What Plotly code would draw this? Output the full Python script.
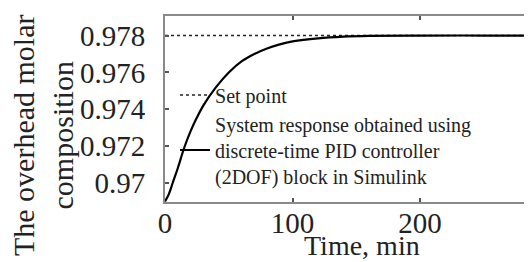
import plotly.graph_objects as go

# Data
time_min = [0, 3, 6, 10, 15, 20, 25, 30, 40, 50, 60, 70, 80, 90, 100, 120, 140, 160, 200, 250, 300]
response = [0.9690, 0.9694, 0.9700, 0.9708, 0.9719, 0.9728, 0.97355, 0.9742, 0.9752, 0.9760,
            0.9766, 0.9770, 0.9773, 0.97752, 0.97768, 0.97785, 0.97794, 0.97798, 0.97800, 0.97800, 0.97800]
setpoint_t = [0, 300]
setpoint_v = [0.978, 0.978]

x_ticks = [0, 100, 200]
y_ticks = [0.970, 0.972, 0.974, 0.976, 0.978]
y_ticktext = ["0.97", "0.972", "0.974", "0.976", "0.978"]

FONT = "Liberation Serif"
TXT = "#222222"

fig = go.Figure()
fig.add_trace(go.Scatter(
    x=setpoint_t, y=setpoint_v, mode="lines", name="Set point",
    line=dict(color="#222222", width=1.6, dash="dot"),
))
fig.add_trace(go.Scatter(
    x=time_min, y=response, mode="lines",
    name="System response obtained using<br>discrete-time PID controller<br>(2DOF) block in Simulink",
    line=dict(color="black", width=2.2, shape="spline", smoothing=1.0),
))

fig.update_layout(
    width=532, height=262,
    margin=dict(l=157, r=0, t=8, b=68),
    paper_bgcolor="white", plot_bgcolor="white",
    font=dict(family=FONT, color=TXT),
    showlegend=True,
    legend=dict(
        x=0.0267, y=0.68, xanchor="left", yanchor="top",
        bgcolor="rgba(0,0,0,0)", borderwidth=0,
        font=dict(family=FONT, size=20, color=TXT),
        tracegroupgap=0, itemwidth=30,
    ),
    xaxis=dict(
        range=[0, 294], tickvals=x_ticks, ticks="inside", ticklen=4, tickwidth=1.5,
        tickcolor="#555555",
        showline=True, linecolor="#8a8a8a", linewidth=2, mirror="ticks",
        showgrid=False, zeroline=False,
        tickfont=dict(family=FONT, size=29, color=TXT),
        ticklabelstandoff=-6,
    ),
    yaxis=dict(
        range=[0.96897, 0.97906], tickvals=y_ticks, ticktext=y_ticktext,
        ticks="inside", ticklen=4, tickwidth=1.5, tickcolor="#555555",
        showline=True, linecolor="#8a8a8a", linewidth=2, mirror=False,
        showgrid=False, zeroline=False,
        tickfont=dict(family=FONT, size=29, color=TXT),
        ticklabelstandoff=12,
    ),
    annotations=[
        dict(
            text="The overhead molar<br>composition",
            xref="paper", yref="paper", x=-0.3253, y=0.36,
            xanchor="center", yanchor="middle", textangle=-90, showarrow=False,
            font=dict(family=FONT, size=30, color=TXT),
        ),
        dict(
            text="Time, min",
            xref="paper", yref="paper", x=0.525, y=-0.232,
            xanchor="center", yanchor="middle", showarrow=False,
            font=dict(family=FONT, size=28, color=TXT),
        ),
    ],
)

fig.write_html("out.html")
